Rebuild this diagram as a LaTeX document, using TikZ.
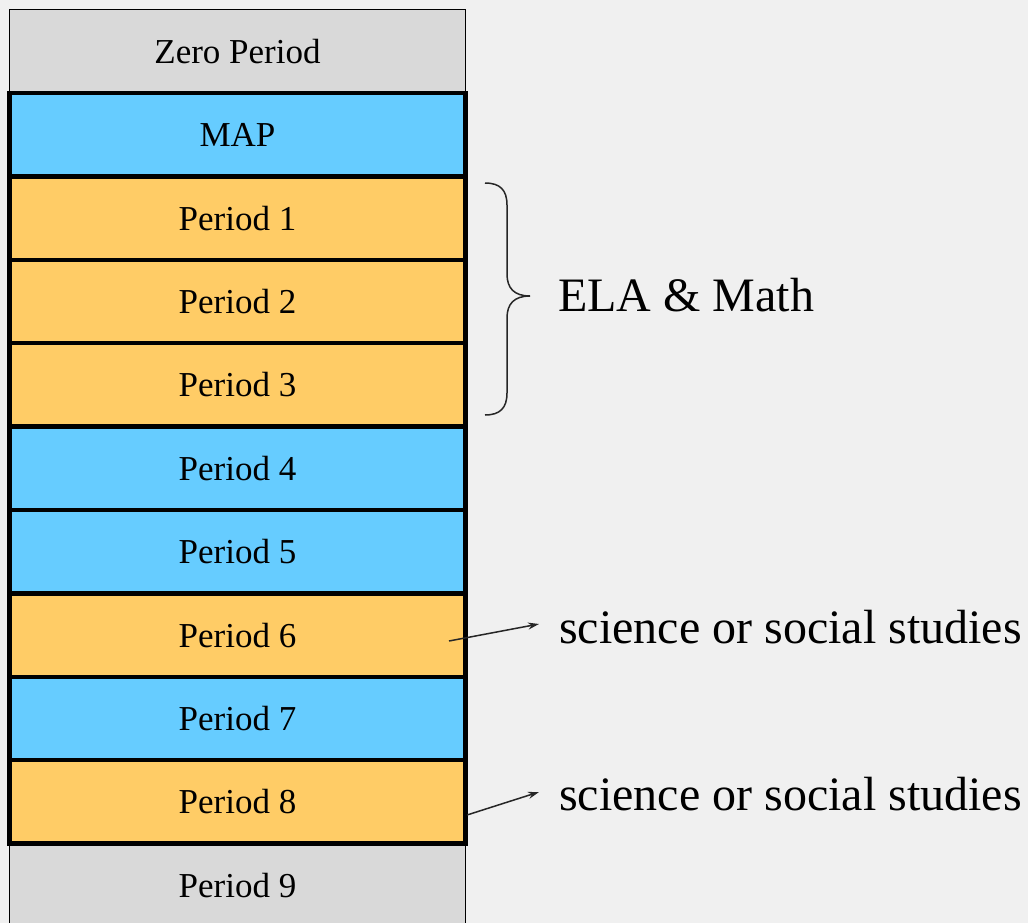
\documentclass[tikz,border=0pt]{standalone}
\usepackage{fontspec}
\setmainfont{Liberation Serif}
\usetikzlibrary{arrows.meta}
\definecolor{bgc}{HTML}{F0F0F0}
\definecolor{blu}{HTML}{66CCFF}
\definecolor{org}{HTML}{FFCC66}
\definecolor{gry}{HTML}{D9D9D9}
\definecolor{ink}{HTML}{262626}
\tikzset{
  slot/.style={minimum width=456pt, minimum height=83.4pt, inner sep=0pt, outer sep=0pt,
    font=\fontsize{35}{40}\selectfont, text=black},
  thinslot/.style={slot, draw=black, line width=1.5pt, fill=gry},
  thickslot/.style={slot, draw=black, line width=4.5pt},
  side/.style={font=\fontsize{48}{52}\selectfont, inner sep=0pt, anchor=base west},
  pointer/.style={draw=ink, line width=1.5pt, -{Stealth[length=11pt,width=7pt]}},
}
\begin{document}
\begin{tikzpicture}[x=1pt,y=-1pt]
\useasboundingbox (0,0) rectangle (1028,923);
\fill[bgc] (0,0) rectangle (1028,923);
\begin{scope}
\clip (0,0) rectangle (1028,923);
\node[thinslot] (zero) at (237.5,51.3) {Zero Period};
\node[thinslot] (p9) at (237.5,885.3) {Period 9};
\node[thickslot, fill=blu] (map) at (237.5,134.7) {MAP};
\node[thickslot, fill=org] (p1) at (237.5,218.1) {Period 1};
\node[thickslot, fill=org] (p2) at (237.5,301.5) {Period 2};
\node[thickslot, fill=org] (p3) at (237.5,384.9) {Period 3};
\node[thickslot, fill=blu] (p4) at (237.5,468.3) {Period 4};
\node[thickslot, fill=blu] (p5) at (237.5,551.7) {Period 5};
\node[thickslot, fill=org] (p6) at (237.5,635.1) {Period 6};
\node[thickslot, fill=blu] (p7) at (237.5,718.5) {Period 7};
\node[thickslot, fill=org] (p8) at (237.5,801.9) {Period 8};
\end{scope}
% brace
\coordinate (bt) at (485,183);
\coordinate (bb) at (485,415);
\coordinate (btip) at (530,296);
\draw[ink, line width=1.5pt] (bt) .. controls (500,183) and (507,190) .. (507,205)
  -- (507,274) .. controls (507,288) and (514,296) .. (btip)
  .. controls (514,296) and (507,304) .. (507,318)
  -- (507,393) .. controls (507,408) and (500,415) .. (bb);
\node[side] (ela) at (558,311) {ELA \& Math};
\node[side] (sci1) at (559,643) {science or social studies};
\node[side] (sci2) at (559,810) {science or social studies};
\coordinate (a1s) at (449,641);
\coordinate (a1e) at (539,624);
\coordinate (a2s) at (467,815);
\coordinate (a2e) at (539,792);
\draw[pointer] (a1s) -- (a1e);
\draw[pointer] (a2s) -- (a2e);
\end{tikzpicture}
\end{document}
